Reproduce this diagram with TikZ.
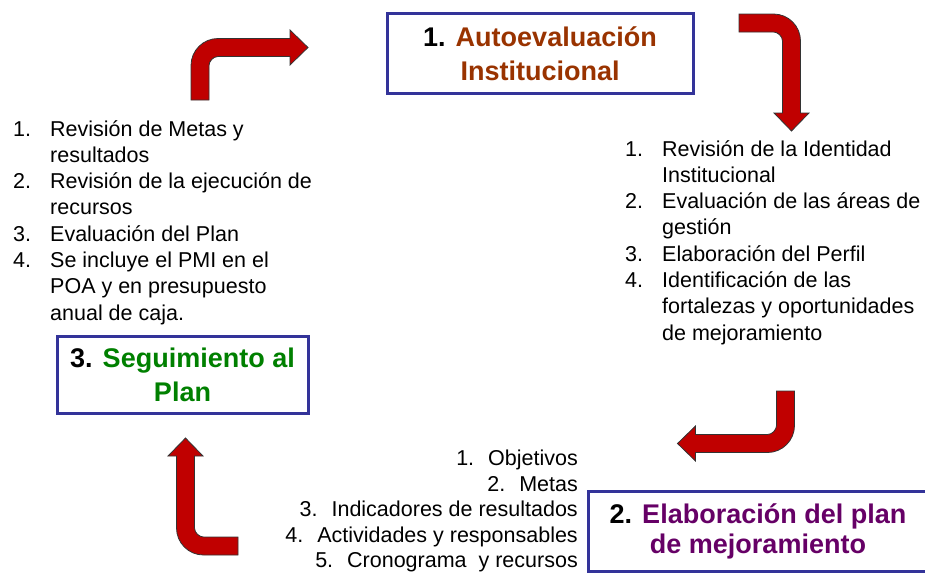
\documentclass[tikz,border=0pt]{standalone}
\usepackage{fontspec}
\setmainfont{Liberation Sans}
\definecolor{boxblue}{RGB}{51,51,153}
\definecolor{arrowred}{RGB}{192,0,0}
\definecolor{autobrown}{RGB}{153,51,0}
\definecolor{planpurple}{RGB}{102,0,102}
\definecolor{segugreen}{RGB}{0,128,0}
\tikzset{
  titlebox/.style={draw=boxblue, line width=3pt, fill=white, align=center, inner sep=0pt, font=\fontsize{27}{34}\selectfont\bfseries},
  listtxt/.style={align=left, inner sep=0pt, font=\fontsize{21.5}{26.3}\selectfont},
  bendarrow/.style={fill=arrowred, draw=black!80, line width=0.8pt, line join=miter}
}
\newcommand{\nr}[1]{\makebox[37pt][l]{#1}}
\newcommand{\nb}[1]{#1.\hspace{14pt}}
\newcommand{\redbend}[3]{%
  \begin{scope}[shift={(#1,#2)}, rotate=#3]
    \draw[bendarrow] (-9,0) -- (-9,-34.5) .. controls (-9,-49.4) and (3.1,-61.5) .. (18,-61.5)
      -- (90,-61.5) -- (90,-70) -- (108,-52.5) -- (90,-35) -- (90,-43.5) -- (18,-43.5)
      .. controls (13,-43.5) and (9,-38.5) .. (9,-34.5) -- (9,0) -- cycle;
  \end{scope}}

\begin{document}
\begin{tikzpicture}[x=1pt,y=-1pt]
\useasboundingbox (0,0) rectangle (925,573);
\clip (0,0) rectangle (925,573);

\node[titlebox, minimum width=306pt, minimum height=80pt] (auto) at (540,53.5)
  {1. \textcolor{autobrown}{Autoevaluación}\\\textcolor{autobrown}{Institucional}};
\node[titlebox, minimum width=340pt, minimum height=80pt, font=\fontsize{27}{30}\selectfont\bfseries] (plan) at (758,531)
  {2. \textcolor{planpurple}{Elaboración del plan}\\\textcolor{planpurple}{de mejoramiento}};
\node[titlebox, minimum width=251pt, minimum height=77pt] (segu) at (182.5,375)
  {3. \textcolor{segugreen}{Seguimiento al}\\\textcolor{segugreen}{Plan}};

\node[listtxt, anchor=north west] (autolist) at (625,140)
  {\nr{1.}Revisión de la Identidad\\\nr{}Institucional\\\nr{2.}Evaluación de las áreas de\\\nr{}gestión\\
   \nr{3.}Elaboración del Perfil\\\nr{4.}Identificación de las\\\nr{}fortalezas y oportunidades\\\nr{}de mejoramiento};
\node[listtxt, anchor=north east, align=right, font=\fontsize{21.5}{25.5}\selectfont] (planlist) at (578,450)
  {\nb{1}Objetivos\\\nb{2}Metas\\\nb{3}Indicadores de resultados\\\nb{4}Actividades y responsables\\\nb{5}Cronograma\ \ y recursos};
\node[listtxt, anchor=north west] (segulist) at (13,120)
  {\nr{1.}Revisión de Metas y\\\nr{}resultados\\\nr{2.}Revisión de la ejecución de\\\nr{}recursos\\
   \nr{3.}Evaluación del Plan\\\nr{4.}Se incluye el PMI en el\\\nr{}POA y en presupuesto\\\nr{}anual de caja.};

\redbend{200}{100}{0}
\redbend{739}{23}{-90}
\redbend{785.5}{391}{180}
\redbend{238}{546}{90}
\end{tikzpicture}
\end{document}
